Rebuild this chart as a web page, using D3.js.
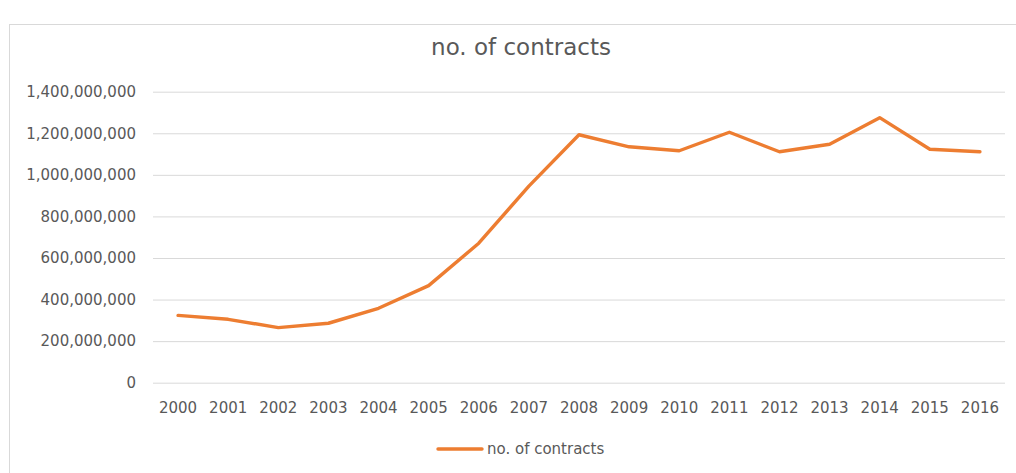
<!DOCTYPE html>
<html>
<head>
<meta charset="utf-8">
<script src="https://cdn.jsdelivr.net/npm/d3@7"></script>
<style>
  html, body { margin: 0; padding: 0; background: #fff; }
  svg { display: block; font-family: "DejaVu Sans", sans-serif; }
</style>
</head>
<body>
<svg id="chart" width="1016" height="473"></svg>
<script>
// Annual number of contracts, 2000–2016
const years = ["2000","2001","2002","2003","2004","2005","2006","2007","2008",
               "2009","2010","2011","2012","2013","2014","2015","2016"];
const contracts = [324e6, 305e6, 265e6, 286e6, 358e6, 467e6, 671e6, 946e6, 1193e6,
                   1135e6, 1116e6, 1205e6, 1111e6, 1147e6, 1275e6, 1123e6, 1111e6];
const yTicks = [0, 200e6, 400e6, 600e6, 800e6, 1000e6, 1200e6, 1400e6];
const seriesName = "no. of contracts";
const chartTitle = "no. of contracts";

const svg = d3.select("#chart");
const W = 1016, H = 473;
const plot = { left: 153, right: 1005, top: 91.7, bottom: 382.7 };
const lineColor = "#ED7D31";
const gridColor = "#d9d9d9";
const textColor = "#595959";

// outer chart frame
svg.append("rect")
  .attr("x", 9.5).attr("y", 24.5)
  .attr("width", W + 10).attr("height", H + 10)
  .attr("fill", "#fff").attr("stroke", gridColor).attr("stroke-width", 1);

const x = d3.scaleBand().domain(years).range([plot.left, plot.right]);
const y = d3.scaleLinear().domain([0, 1400e6]).range([plot.bottom, plot.top]);

// horizontal gridlines + y labels
const yAxis = d3.axisLeft(y)
  .tickValues(yTicks)
  .tickSize(-(plot.right - plot.left))
  .tickPadding(17)
  .tickFormat(d3.format(","));
const gy = svg.append("g")
  .attr("transform", `translate(${plot.left},0)`)
  .call(yAxis);
gy.select(".domain").remove();
gy.selectAll(".tick line").attr("stroke", gridColor).attr("stroke-width", 1);
gy.selectAll(".tick text")
  .attr("fill", textColor).attr("font-size", 15)
  .attr("font-family", "DejaVu Sans, sans-serif");

// x category labels
const xAxis = d3.axisBottom(x).tickSize(0).tickPadding(20);
const gx = svg.append("g")
  .attr("transform", `translate(0,${plot.bottom})`)
  .call(xAxis);
gx.select(".domain").remove();
gx.selectAll(".tick text")
  .attr("fill", textColor).attr("font-size", 15)
  .attr("font-family", "DejaVu Sans, sans-serif");

// the series line
const line = d3.line()
  .x((d, i) => x(years[i]) + x.bandwidth() / 2)
  .y(d => y(d));
svg.append("path")
  .datum(contracts)
  .attr("d", line)
  .attr("fill", "none")
  .attr("stroke", lineColor)
  .attr("stroke-width", 3.4)
  .attr("stroke-linejoin", "round")
  .attr("stroke-linecap", "round");

// title
svg.append("text")
  .attr("x", 521).attr("y", 55)
  .attr("text-anchor", "middle")
  .attr("fill", textColor)
  .attr("font-size", 23)
  .text(chartTitle);

// legend
const lg = svg.append("g").attr("transform", "translate(438,449)");
lg.append("line")
  .attr("x1", 0).attr("x2", 44).attr("y1", 0).attr("y2", 0)
  .attr("stroke", lineColor).attr("stroke-width", 3.4)
  .attr("stroke-linecap", "round");
lg.append("text")
  .attr("x", 49).attr("y", 0).attr("dy", "0.35em")
  .attr("fill", textColor).attr("font-size", 15)
  .text(seriesName);
</script>
</body>
</html>
